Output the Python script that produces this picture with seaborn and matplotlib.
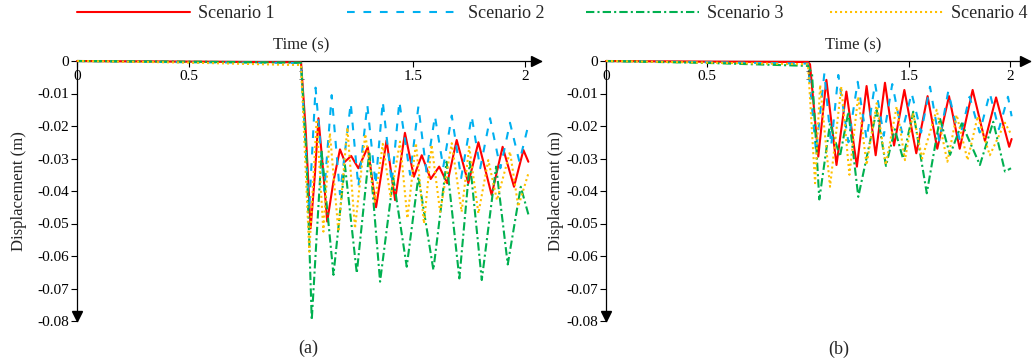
import matplotlib
matplotlib.use("Agg")
import matplotlib.pyplot as plt
from matplotlib.lines import Line2D
import numpy as np
import pandas as pd
import seaborn as sns

sns.set_style("white")
plt.rcParams['font.family'] = ['Liberation Serif', 'DejaVu Serif']
plt.rcParams['axes.unicode_minus'] = False

# ---------------- data ----------------
scenarios = ["Scenario 1", "Scenario 2", "Scenario 3", "Scenario 4"]
colors = ["#FF0000", "#00B0F0", "#00B050", "#FFC000"]
x_ticks = [0, 0.5, 1, 1.5, 2]
x_tick_labels = ["0", "0.5", "1", "1.5", "2"]
y_ticks = [0, -0.01, -0.02, -0.03, -0.04, -0.05, -0.06, -0.07, -0.08]
y_tick_labels = ["0", "-0.01", "-0.02", "-0.03", "-0.04", "-0.05", "-0.06", "-0.07", "-0.08"]
panel_labels = ["(a)", "(b)"]

# Panel (a)
a_s1_t = [0, 0.5, 1.0, 1.02, 1.043, 1.062, 1.078, 1.098, 1.117, 1.145, 1.174, 1.196, 1.224, 1.256, 1.298,
          1.335, 1.382, 1.420, 1.464, 1.504, 1.539, 1.579, 1.617, 1.653, 1.695, 1.747, 1.792, 1.851, 1.900,
          1.951, 1.993, 2.015]
a_s1_d = [0, -0.0002, -0.0004, -0.020, -0.0515, -0.035, -0.0176, -0.033, -0.0494, -0.037, -0.0272, -0.031,
          -0.0292, -0.033, -0.0265, -0.045, -0.0244, -0.0428, -0.0221, -0.0356, -0.029, -0.0363, -0.0325,
          -0.0376, -0.0243, -0.0376, -0.025, -0.0412, -0.0264, -0.0387, -0.0274, -0.031]

a_s2_t = [0, 0.5, 1.0, 1.036, 1.065, 1.104, 1.137, 1.174, 1.222, 1.256, 1.296, 1.333, 1.365, 1.405, 1.439,
          1.487, 1.524, 1.560, 1.598, 1.635, 1.673, 1.715, 1.762, 1.800, 1.844, 1.890, 1.933, 1.975, 2.015]
a_s2_d = [0, -0.0004, -0.0006, -0.046, -0.0082, -0.040, -0.0105, -0.041, -0.013, -0.0387, -0.0135, -0.038,
          -0.0125, -0.0376, -0.0125, -0.035, -0.014, -0.034, -0.017, -0.0327, -0.0168, -0.036, -0.017,
          -0.033, -0.0176, -0.033, -0.019, -0.031, -0.0197]

a_s3_t = [0, 0.5, 1.0, 1.025, 1.048, 1.092, 1.145, 1.196, 1.249, 1.305, 1.353, 1.412, 1.472, 1.524, 1.591,
          1.650, 1.707, 1.754, 1.807, 1.871, 1.923, 1.981, 2.015]
a_s3_d = [0, -0.0002, -0.0005, -0.030, -0.0797, -0.0279, -0.0658, -0.032, -0.0653, -0.0279, -0.0679, -0.036,
          -0.0633, -0.0356, -0.0643, -0.031, -0.0669, -0.031, -0.0674, -0.0325, -0.0626, -0.0387, -0.0472]

a_s4_t = [0, 0.5, 0.95, 1.0, 1.037, 1.07, 1.10, 1.129, 1.167, 1.207, 1.241, 1.287, 1.33, 1.365, 1.40, 1.442,
          1.475, 1.513, 1.549, 1.583, 1.621, 1.673, 1.717, 1.751, 1.792, 1.836, 1.875, 1.933, 1.970, 2.015]
a_s4_d = [0, -0.0005, -0.0012, -0.0012, -0.0587, -0.018, -0.0525, -0.0222, -0.0525, -0.0205, -0.0515,
          -0.0225, -0.0433, -0.0255, -0.042, -0.0248, -0.0484, -0.0253, -0.050, -0.0258, -0.0464, -0.0253,
          -0.0464, -0.0264, -0.0469, -0.0305, -0.0428, -0.0279, -0.0448, -0.0346]

# Panel (b)
b_s1_t = [0, 0.5, 1.0, 1.01, 1.051, 1.091, 1.141, 1.190, 1.242, 1.290, 1.335, 1.381, 1.426, 1.477, 1.536,
          1.592, 1.640, 1.698, 1.751, 1.815, 1.876, 1.931, 1.996, 2.008]
b_s1_d = [0, -0.0002, -0.0003, -0.001, -0.0294, -0.0058, -0.032, -0.0094, -0.0325, -0.0077, -0.029, -0.0067,
          -0.026, -0.0089, -0.0284, -0.0108, -0.027, -0.0108, -0.027, -0.0089, -0.0246, -0.0112, -0.0264,
          -0.024]

b_s2_t = [0, 0.5, 1.0, 1.04, 1.081, 1.115, 1.15, 1.20, 1.246, 1.29, 1.332, 1.375, 1.417, 1.465, 1.513,
          1.56, 1.604, 1.65, 1.694, 1.75, 1.80, 1.85, 1.90, 1.945, 1.99, 2.008]
b_s2_d = [0, -0.0004, -0.0008, -0.028, -0.0038, -0.026, -0.0043, -0.025, -0.0064, -0.024, -0.0069, -0.023,
          -0.0071, -0.022, -0.0099, -0.022, -0.0079, -0.0245, -0.0094, -0.024, -0.011, -0.022, -0.0099,
          -0.021, -0.011, -0.017]

b_s3_t = [0, 0.5, 1.0, 1.02, 1.056, 1.109, 1.158, 1.2, 1.249, 1.34, 1.386, 1.43, 1.47, 1.521, 1.588, 1.653,
          1.703, 1.761, 1.851, 1.917, 1.975, 2.005]
b_s3_d = [0, -0.0006, -0.0015, -0.004, -0.0426, -0.0192, -0.0294, -0.0156, -0.0418, -0.0151, -0.0323,
          -0.021, -0.030, -0.0156, -0.0407, -0.0176, -0.0289, -0.0192, -0.032, -0.0187, -0.034, -0.033]

b_s4_t = [0, 0.5, 1.0, 1.035, 1.06, 1.109, 1.165, 1.205, 1.248, 1.29, 1.34, 1.385, 1.439, 1.48, 1.52, 1.565,
          1.637, 1.69, 1.736, 1.79, 1.84, 1.90, 1.975, 2.005]
b_s4_d = [0, -0.0005, -0.001, -0.0376, -0.0074, -0.0387, -0.0079, -0.035, -0.011, -0.032, -0.013, -0.032,
          -0.014, -0.0305, -0.016, -0.030, -0.015, -0.031, -0.0166, -0.0305, -0.017, -0.029, -0.019,
          -0.0225]

panel_a = [(a_s1_t, a_s1_d), (a_s2_t, a_s2_d), (a_s3_t, a_s3_d), (a_s4_t, a_s4_d)]
panel_b = [(b_s1_t, b_s1_d), (b_s2_t, b_s2_d), (b_s3_t, b_s3_d), (b_s4_t, b_s4_d)]

# ---------------- styles ----------------
dash_map = {
    "Scenario 1": "",
    "Scenario 2": (3.7, 4.2),
    "Scenario 3": (4.0, 1.5, 1.0, 1.5),
    "Scenario 4": (1.0, 1.4),
}
palette = dict(zip(scenarios, colors))


def make_df(panel):
    frames = []
    for name, (t, d) in zip(scenarios, panel):
        frames.append(pd.DataFrame({"Time": t, "Displacement": d, "Scenario": name}))
    return pd.concat(frames, ignore_index=True)


fig = plt.figure(figsize=(10.35, 3.58), dpi=100)
W, H = 1035.0, 358.0

axes_specs = [
    dict(left=77, ppu=224, xmax=2.07, arrow_x=2.05, time_x=0.4842, ylab_x=-0.126, lab=(308, 348)),
    dict(left=606, ppu=202, xmax=2.10, arrow_x=2.075, time_x=0.5835, ylab_x=-0.117, lab=(839, 349)),
]

for spec, panel, plabel in zip(axes_specs, [panel_a, panel_b], panel_labels):
    width_px = spec["xmax"] * spec["ppu"]
    ax = fig.add_axes([spec["left"] / W, 37 / H, width_px / W, 260 / H])
    df = make_df(panel)
    sns.lineplot(data=df, x="Time", y="Displacement", hue="Scenario", style="Scenario",
                 palette=palette, dashes=dash_map, sort=False, estimator=None,
                 linewidth=1.5, legend=False, ax=ax)
    for line in ax.get_lines():
        line.set_dash_capstyle("butt")
        line.set_solid_joinstyle("round")
        line.set_dash_joinstyle("round")
        line.set_clip_on(False)
    ax.set_xlim(0, spec["xmax"])
    ax.set_ylim(-0.08, 0)
    ax.set_xticks(x_ticks)
    ax.set_xticklabels(x_tick_labels)
    ax.set_yticks(y_ticks)
    ax.set_yticklabels(y_tick_labels)
    ax.set_xlabel("")
    ax.set_ylabel("")
    for s in ["top", "right"]:
        ax.spines[s].set_visible(False)
    ax.spines["bottom"].set_position(("data", 0))
    for s in ["bottom", "left"]:
        ax.spines[s].set_color("black")
        ax.spines[s].set_linewidth(0.9)
        ax.spines[s].set_zorder(0.5)
    ax.tick_params(axis="x", direction="out", length=4, width=0.8, pad=2.5, labelsize=11,
                   colors="black", bottom=True)
    ax.tick_params(axis="y", direction="out", length=4, width=0.8, pad=1.5, labelsize=11,
                   colors="black", left=True)
    ax.patch.set_alpha(0)
    ax.plot([spec["arrow_x"]], [0], marker=">", color="black", ms=7, clip_on=False, zorder=5)
    ax.plot([0], [-0.0785], marker="v", color="black", ms=7, clip_on=False, zorder=5)
    ax.text(spec["time_x"], 1.0615, "Time (s)", transform=ax.transAxes, ha="center", va="center",
            fontsize=12)
    ax.text(spec["ylab_x"], 0.5, "Displacement (m)", transform=ax.transAxes, ha="center",
            va="center", rotation=90, fontsize=12)
    fig.text(spec["lab"][0] / W, 1 - spec["lab"][1] / H, plabel, ha="center", va="center",
             fontsize=13)

# ---------------- legend ----------------
legend_x = [77, 347, 586, 830]
for name, col, xpx in zip(scenarios, colors, legend_x):
    ls = "-" if dash_map[name] == "" else (0, dash_map[name])
    h = Line2D([], [], color=col, lw=1.5, linestyle=ls, dash_capstyle="butt")
    fig.legend([h], [name], loc="center left", bbox_to_anchor=(xpx / W, 1 - 14 / H),
               frameon=False, fontsize=13, handlelength=6.25, handletextpad=0.45,
               borderpad=0, borderaxespad=0)

fig.savefig("out.png", dpi=100)
